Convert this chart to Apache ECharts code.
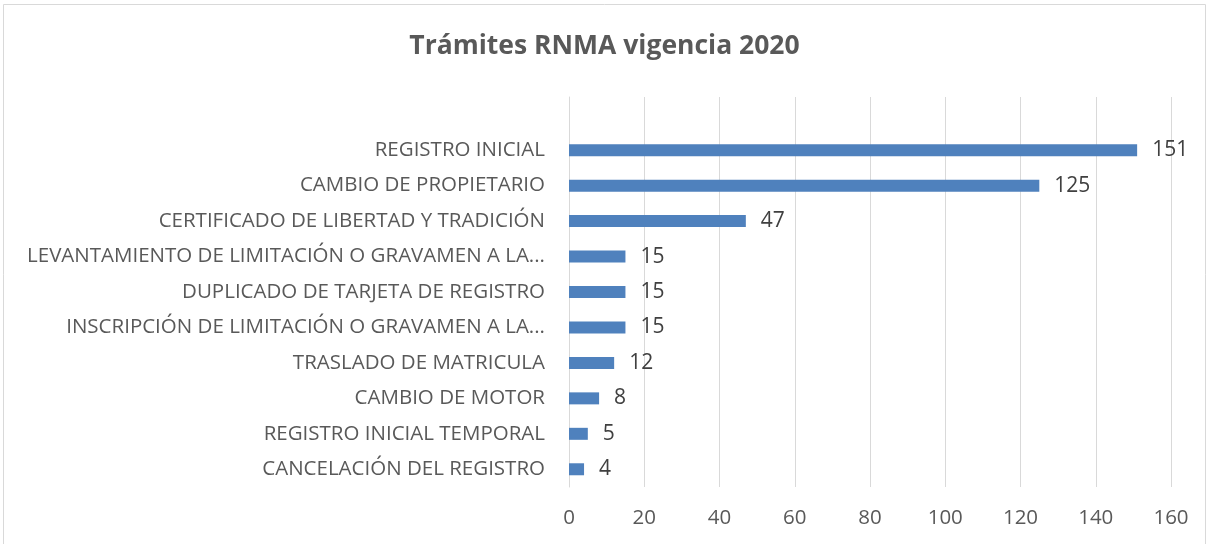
<!DOCTYPE html>
<html>
<head>
<meta charset="utf-8">
<script src="https://cdn.jsdelivr.net/npm/echarts@6/dist/echarts.min.js"></script>
<style>
  html, body { margin: 0; padding: 0; background: #fff; }
  #chartID { width: 1209px; height: 544px; }
</style>
</head>
<body>
<div id="chartID"></div>
<script>
var tramitesChart = echarts.init(document.getElementById('chartID'));

// categorias de abajo hacia arriba (la primera vacia deja el hueco superior)
var categorias = [
    'CANCELACIÓN DEL REGISTRO',
    'REGISTRO INICIAL TEMPORAL',
    'CAMBIO DE MOTOR',
    'TRASLADO DE MATRICULA',
    'INSCRIPCIÓN DE LIMITACIÓN O GRAVAMEN A LA...',
    'DUPLICADO DE TARJETA DE REGISTRO',
    'LEVANTAMIENTO DE LIMITACIÓN O GRAVAMEN A LA...',
    'CERTIFICADO DE LIBERTAD Y TRADICIÓN',
    'CAMBIO DE PROPIETARIO',
    'REGISTRO INICIAL',
    ''
];
var valores = [4, 5, 8, 12, 15, 15, 15, 47, 125, 151, null];
var ticksX = [0, 20, 40, 60, 80, 100, 120, 140, 160];

var textColor = '#595959';
var fuente = 'Open Sans';

var option_tramites = {
    animation: false,
    title: {
        text: 'Trámites RNMA vigencia 2020',
        left: 'center',
        top: 28,
        textStyle: {
            fontFamily: fuente,
            fontSize: 26.5,
            fontWeight: 'bold',
            color: textColor
        }
    },
    graphic: [{
        type: 'rect',
        shape: { x: 3.5, y: 4.5, width: 1202, height: 545 },
        style: { fill: 'none', stroke: '#d9d9d9', lineWidth: 1 }
    }],
    grid: {
        left: 569,
        right: 38,
        top: 97,
        bottom: 57
    },
    xAxis: {
        type: 'value',
        min: ticksX[0],
        max: ticksX[ticksX.length - 1],
        interval: 20,
        axisLine: { show: false },
        axisTick: { show: false },
        axisLabel: {
            margin: 21,
            fontFamily: fuente,
            fontSize: 20.5,
            color: textColor
        },
        splitLine: { lineStyle: { color: '#d9d9d9', width: 1 } }
    },
    yAxis: {
        type: 'category',
        data: categorias,
        axisLine: { show: true, lineStyle: { color: '#d9d9d9' } },
        axisTick: { show: false },
        axisLabel: {
            margin: 24,
            fontFamily: fuente,
            fontSize: 20.5,
            color: textColor
        }
    },
    series: [{
        type: 'bar',
        data: valores,
        barWidth: 12,
        itemStyle: { color: '#4f81bd' },
        label: {
            show: true,
            position: 'right',
            distance: 15,
            fontFamily: fuente,
            fontSize: 21,
            color: '#404040'
        }
    }]
};

tramitesChart.setOption(option_tramites);
</script>
</body>
</html>
